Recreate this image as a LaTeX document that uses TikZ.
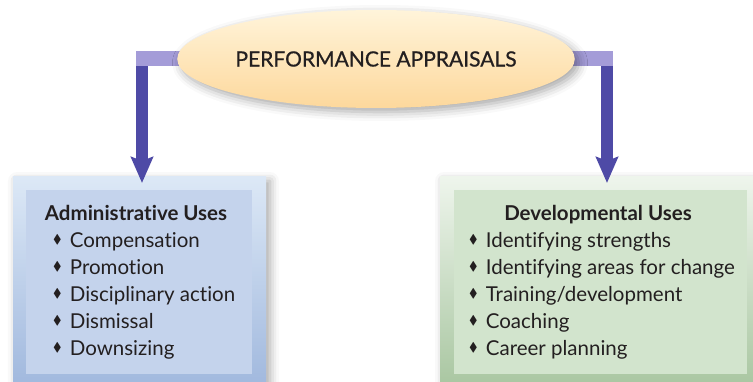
\documentclass[tikz,border=0pt]{standalone}
\usepackage{fontspec}
\setmainfont{Lato}[Ligatures=NoCommon]
\newfontfamily\titlefont{Lato}[Ligatures=NoCommon, FakeBold=0.7]
\usepackage{amssymb}
\usetikzlibrary{positioning, arrows.meta, shapes.geometric, shadows.blur, calc}

\definecolor{paTop}{HTML}{FFF4DA}
\definecolor{paBottom}{HTML}{FDD89C}
\definecolor{adminTopC}{HTML}{DCE8F6}
\definecolor{adminBotC}{HTML}{9FB7DD}
\definecolor{adminFill}{HTML}{C4D3EC}
\definecolor{develTopC}{HTML}{EEF5EC}
\definecolor{develBotC}{HTML}{A7C59F}
\definecolor{develFill}{HTML}{D2E4CD}
\definecolor{armLight}{HTML}{A49CD8}
\definecolor{armDark}{HTML}{4E4AA6}
\definecolor{inkC}{HTML}{231F20}

\pgfdeclarelayer{boxlayer}
\pgfdeclarelayer{arrowlayer}
\pgfsetlayers{boxlayer,arrowlayer,main}

\tikzset{
  softshadow/.style={
    blur shadow={shadow xshift=4pt, shadow yshift=-4pt,
                 shadow blur radius=9pt, shadow opacity=35}
  },
  appraisal/.style={
    ellipse, top color=paTop, bottom color=paBottom,
    minimum width=358pt, minimum height=98pt, inner sep=0pt,
    font=\titlefont\fontsize{21}{24}\selectfont, text=inkC, softshadow
  },
  outerbox/.style={
    rectangle, minimum width=253pt, minimum height=215pt, softshadow
  },
  innerbox/.style={
    rectangle, minimum width=226pt, minimum height=184pt
  },
  boxhead/.style={
    font=\fontsize{20.5}{22}\selectfont\bfseries, text=inkC, inner sep=0pt
  },
  uselist/.style={
    anchor=north west, align=left, text=inkC, inner sep=0pt,
    font=\fontsize{20.5}{27}\selectfont
  },
  % Arms of the connectors
  armlight/.style={line width=15pt, color=armLight},
  armdark/.style={
    line width=12pt, color=armDark,
    -{Stealth[width=22pt, length=26pt, inset=4pt]}
  },
}
\newcommand{\usebullet}{\raisebox{0.17em}{\scalebox{0.62}{$\blacklozenge$}}\hspace{0.4em}}

\begin{document}
\begin{tikzpicture}[x=1pt, y=-1pt]
  \useasboundingbox (0,0) rectangle (753,382);

  %% -- Central ellipse --
  \node[appraisal] (pa) at (376,59) {PERFORMANCE APPRAISALS};

  %% -- Boxes --
  \begin{pgfonlayer}{boxlayer}
    \node[outerbox, top color=adminTopC, bottom color=adminBotC] (adminout) at (139.5,284.5) {};
    \node[innerbox, fill=adminFill] (admin) at (139,282) {};
    \node[boxhead] (adminhead) at (136,213) {Administrative Uses};
    \node[uselist] (adminlist) at (53,232) {%
      \usebullet Compensation\\
      \usebullet Promotion\\
      \usebullet Disciplinary action\\
      \usebullet Dismissal\\
      \usebullet Downsizing};

    \node[outerbox, minimum width=320pt, top color=develTopC, bottom color=develBotC] (develout) at (600,284.5) {};
    \node[innerbox, minimum width=293pt, fill=develFill] (devel) at (600.5,282) {};
    \node[boxhead] (develhead) at (598,215) {Developmental Uses};
    \node[uselist] (devellist) at (469,232) {%
      \usebullet Identifying strengths\\
      \usebullet Identifying areas for change\\
      \usebullet Training/development\\
      \usebullet Coaching\\
      \usebullet Career planning};
  \end{pgfonlayer}

  %% -- Connectors --
  \coordinate (adminTip) at (142,183);
  \coordinate (develTip) at (607,183);
  \begin{pgfonlayer}{arrowlayer}
    \draw[armdark] (pa.center) -| (adminTip);
    \draw[armdark] (pa.center) -| (develTip);
    \draw[armlight] (pa.center) -- ($(pa.center -| adminTip)+(-6,0)$);
    \draw[armlight] (pa.center) -- ($(pa.center -| develTip)+(6,0)$);
  \end{pgfonlayer}

\end{tikzpicture}
\end{document}
